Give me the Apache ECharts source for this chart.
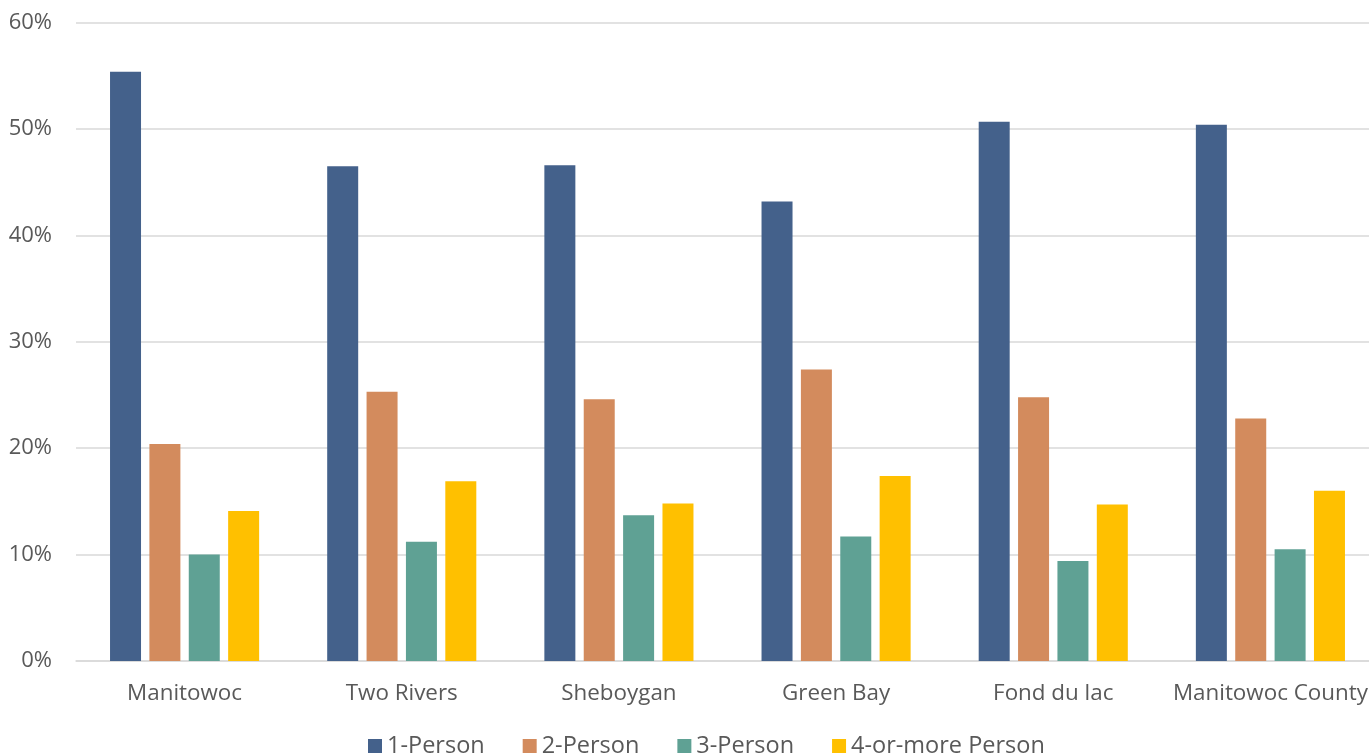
<!DOCTYPE html>
<html>
<head>
<meta charset="utf-8">
<script src="https://cdn.jsdelivr.net/npm/echarts@6/dist/echarts.min.js"></script>
<style>html,body{margin:0;padding:0;background:#fff}#c{width:1369px;height:755px}</style>
</head>
<body>
<div id="c"></div>
<script>
const categories = ["Manitowoc", "Two Rivers", "Sheboygan", "Green Bay", "Fond du lac", "Manitowoc County"];
const seriesNames = ["1-Person", "2-Person", "3-Person", "4-or-more Person"];
const onePerson = [55.4, 46.5, 46.6, 43.2, 50.7, 50.4];
const twoPerson = [20.4, 25.3, 24.6, 27.4, 24.8, 22.8];
const threePerson = [10.0, 11.2, 13.7, 11.7, 9.4, 10.5];
const fourPlus = [14.1, 16.9, 14.8, 17.4, 14.7, 16.0];
const yTicks = [0, 10, 20, 30, 40, 50, 60];
const colors = ["#44618B", "#D38B5D", "#5FA194", "#FFC000"];

const font = "'Open Sans', sans-serif";
const chart = echarts.init(document.getElementById('c'), null, {renderer: 'canvas'});
const data = [onePerson, twoPerson, threePerson, fourPlus];
chart.setOption({
  animation: false,
  color: colors,
  grid: {left: 76, width: 1303, top: 22.7, bottom: 94, containLabel: false, outerBoundsMode: 'none'},
  legend: {
    top: 729, left: 363,
    itemWidth: 14, itemHeight: 14, itemGap: 38,
    icon: 'rect',
    textStyle: {color: '#595959', fontSize: 23.5, fontFamily: font},
    data: seriesNames
  },
  xAxis: {
    type: 'category', data: categories,
    axisTick: {show: false},
    axisLine: {lineStyle: {color: '#D9D9D9', width: 1.5}},
    axisLabel: {color: '#595959', fontSize: 22.4, fontFamily: font, margin: 22, interval: 0}
  },
  yAxis: {
    type: 'value', min: yTicks[0], max: yTicks[yTicks.length - 1], interval: 10,
    axisLine: {show: false}, axisTick: {show: false},
    splitLine: {lineStyle: {color: '#D9D9D9', width: 1.5}},
    axisLabel: {color: '#595959', fontSize: 22, fontFamily: font, margin: 24, formatter: v => v + '%'}
  },
  series: seriesNames.map((n, i) => ({
    name: n, type: 'bar', data: data[i],
    barWidth: 31, barGap: '27%',
    itemStyle: {color: colors[i]}
  }))
});
</script>
</body>
</html>
